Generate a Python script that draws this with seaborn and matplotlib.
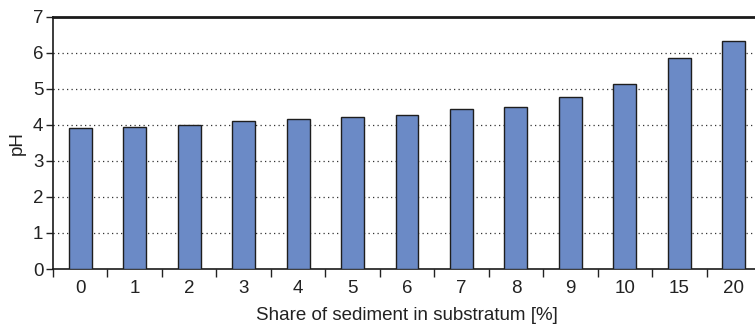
import matplotlib
matplotlib.use("Agg")
import matplotlib.pyplot as plt
import seaborn as sns
import pandas as pd

# Sediment share in substratum (%) and measured pH
shares = ["0", "1", "2", "3", "4", "5", "6", "7", "8", "9", "10", "15", "20"]
ph_values = [3.91, 3.94, 4.00, 4.09, 4.16, 4.22, 4.28, 4.44, 4.50, 4.77, 5.14, 5.84, 6.31]
y_ticks = [0, 1, 2, 3, 4, 5, 6, 7]

df = pd.DataFrame({"share": shares, "pH": ph_values})

sns.set_theme(style="white")
plt.rcParams["font.family"] = ["Liberation Sans", "DejaVu Sans"]

FS = 13.5

fig = plt.figure(figsize=(7.55, 3.25), dpi=100)
ax = fig.add_axes([53 / 755, 1 - 269 / 325, 708 / 755, (269 - 16.5) / 325])

sns.barplot(data=df, x="share", y="pH", order=shares, color="#6b8ac6",
            saturation=1, width=0.42, edgecolor="#1e1e1e", linewidth=1.0,
            ax=ax, zorder=3)

ax.set_ylim(0, 7)
ax.set_xlim(-0.5, 12.5)
ax.set_yticks(y_ticks)
ax.set_yticklabels([str(t) for t in y_ticks])

# category boundaries as x ticks, labels centred under bars
ax.set_xticks([i - 0.5 for i in range(len(shares))])
ax.set_xticklabels([])
ax.set_xticks(range(len(shares)), minor=True)
ax.set_xticklabels(shares, minor=True)
ax.tick_params(axis="x", which="major", direction="out", length=6, width=1,
               color="#222222", bottom=True)
ax.tick_params(axis="x", which="minor", length=0, pad=8, labelsize=FS,
               labelcolor="#222222")
ax.tick_params(axis="y", direction="out", length=5, width=1, color="#222222",
               left=True, labelsize=FS, labelcolor="#222222", pad=2)

for y in y_ticks[1:-1]:
    ax.axhline(y, color="#333333", linestyle=(0, (1, 2.6)), linewidth=0.9, zorder=1)

for side in ["top", "left", "bottom"]:
    ax.spines[side].set_visible(True)
    ax.spines[side].set_color("#1a1a1a")
ax.spines["top"].set_linewidth(2.0)
ax.spines["left"].set_linewidth(1.2)
ax.spines["bottom"].set_linewidth(1.2)
ax.spines["right"].set_visible(False)

ax.set_xlabel("Share of sediment in substratum [%]", fontsize=FS, color="#222222", labelpad=7)
ax.set_ylabel("pH", fontsize=FS, color="#222222", labelpad=5)

fig.savefig("out.png", dpi=100)
